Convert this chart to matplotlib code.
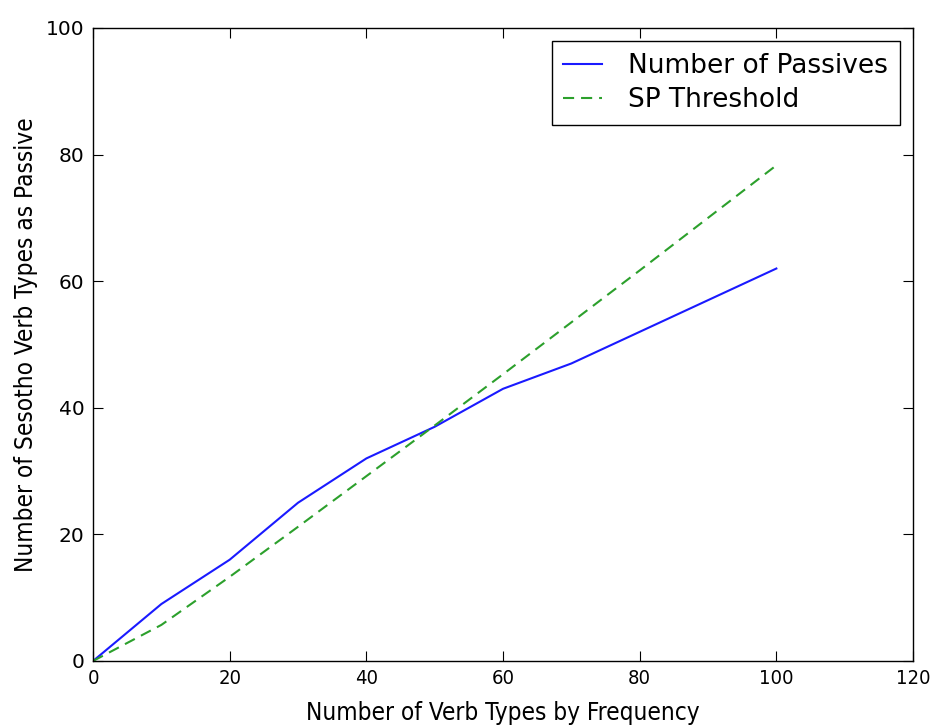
import matplotlib
matplotlib.use("Agg")
import matplotlib.pyplot as plt

x_types = [0, 10, 20, 30, 40, 50, 60, 70, 80, 90, 100]
passives = [0, 9, 16, 25, 32, 37, 43, 47, 52, 57, 62]
sp_threshold = [0, 5.7, 13.3, 21.2, 29.2, 37.2, 45.3, 53.5, 61.7, 70.0, 78.3]

x_ticks = [0, 20, 40, 60, 80, 100, 120]
y_ticks = [0, 20, 40, 60, 80, 100]

plt.rcParams['font.family'] = ['DejaVu Sans']
plt.rcParams['lines.scale_dashes'] = False

fig = plt.figure(figsize=(9.37, 7.25), dpi=100)
ax = fig.add_axes([0.0993, 0.0883, 0.8751, 0.8731])

ax.plot(x_types, passives, color='#1a1aff', lw=1.5, label='Number of Passives')
ax.plot(x_types, sp_threshold, color='#2ca02c', lw=1.5, dashes=(8, 5), label='SP Threshold')

ax.set_xlim(0, 120)
ax.set_ylim(0, 100)
ax.set_xticks(x_ticks)
ax.set_yticks(y_ticks)
ax.tick_params(direction='in', top=True, right=True, length=7, width=0.8, pad=6)
for lbl in ax.get_yticklabels():
    lbl.set_fontsize(14.5)
for lbl in ax.get_xticklabels():
    lbl.set_fontsize(14.5)
    lbl.set_fontstretch('condensed')
for s in ax.spines.values():
    s.set_linewidth(1.0)

ax.set_xlabel('Number of Verb Types by Frequency', fontsize=17.5, fontstretch='condensed', labelpad=9)
ax.set_ylabel('Number of Sesotho Verb Types as Passive', fontsize=17.5, fontstretch='condensed', labelpad=6)

leg = ax.legend(loc='upper right', fontsize=19, fancybox=False, framealpha=1,
                edgecolor='black', borderpad=0.45, handlelength=1.45, handletextpad=1.0,
                labelspacing=0.3, borderaxespad=0.5)
leg.get_frame().set_linewidth(1.0)

fig.savefig('out.png', dpi=100)
